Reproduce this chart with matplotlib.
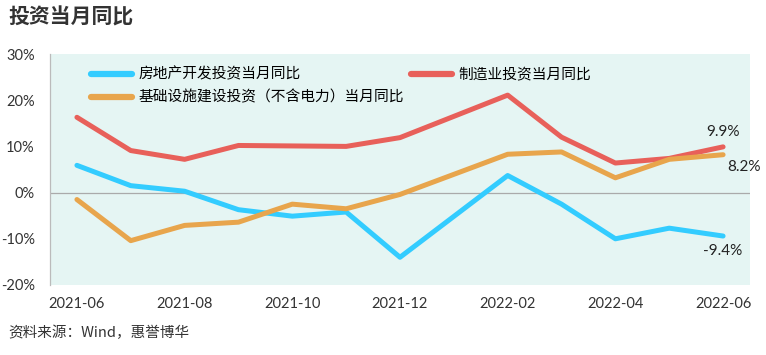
import matplotlib
matplotlib.use("Agg")
import matplotlib.pyplot as plt

plt.rcParams['font.family'] = ['Lato', 'Noto Sans CJK SC', 'DejaVu Sans']

months = ["2021-06", "2021-07", "2021-08", "2021-09", "2021-10", "2021-11", "2021-12",
          "2022-02", "2022-03", "2022-04", "2022-05", "2022-06"]
month_index = [0, 1, 2, 3, 4, 5, 6, 8, 9, 10, 11, 12]
tick_labels = ["2021-06", "2021-08", "2021-10", "2021-12", "2022-02", "2022-04", "2022-06"]
tick_pos = [0, 2, 4, 6, 8, 10, 12]

real_estate = [5.9, 1.5, 0.3, -3.7, -5.1, -4.2, -14.0, 3.7, -2.5, -10.0, -7.7, -9.4]
manufacturing = [16.3, 9.1, 7.2, 10.2, 10.1, 10.0, 11.9, 21.1, 12.0, 6.4, 7.4, 9.9]
infrastructure = [-1.5, -10.4, -7.1, -6.4, -2.5, -3.5, -0.4, 8.3, 8.8, 3.2, 7.2, 8.2]

names = ["房地产开发投资当月同比", "制造业投资当月同比", "基础设施建设投资（不含电力）当月同比"]
colors = ["#33CCFF", "#E8605A", "#E8A54C"]

fig = plt.figure(figsize=(7.66, 3.55), dpi=100)
ax = fig.add_axes([50/766, 1-285/355, 700/766, 231/355])
ax.set_facecolor("#E5F5F3")

lw = 3.6
l1, = ax.plot(month_index, real_estate, color=colors[0], lw=lw, solid_capstyle='round', label=names[0])
l2, = ax.plot(month_index, manufacturing, color=colors[1], lw=lw, solid_capstyle='round', label=names[1])
l3, = ax.plot(month_index, infrastructure, color=colors[2], lw=lw, solid_capstyle='round', label=names[2])

ax.axhline(0, color="#AAAAAA", lw=0.9, zorder=0.5)
ax.set_xlim(-0.5, 12.5)
ax.set_ylim(-20, 30)
ax.set_yticks([-20, -10, 0, 10, 20, 30])
ax.set_yticklabels([f"{v}%" for v in [-20, -10, 0, 10, 20, 30]])
ax.set_xticks(tick_pos)
ax.set_xticklabels(tick_labels)
ax.tick_params(axis='both', length=0, labelsize=10.5, colors="#333333")
ax.tick_params(axis='y', pad=11)
ax.tick_params(axis='x', pad=9)
for s in ["top", "right", "bottom"]:
    ax.spines[s].set_visible(False)
ax.spines["left"].set_color("#BBBBBB")
ax.spines["left"].set_linewidth(0.9)

leg = ax.legend(handles=[l1, l3, l2], ncol=2, loc="upper left", bbox_to_anchor=(0.04, 1.0),
                frameon=False, handlelength=2.8, handletextpad=0.4,
                columnspacing=0.5, labelspacing=0.6,
                prop={'family': ['Lato', 'Noto Sans CJK SC'], 'size': 10.6})
for h in leg.legend_handles:
    h.set_linewidth(4.5)

ax.annotate(f"{manufacturing[-1]}%", (month_index[-1], manufacturing[-1]), xytext=(0, 6),
            textcoords="offset points", ha="center", va="bottom", fontsize=11, color="#222222")
ax.annotate(f"{infrastructure[-1]}%", (month_index[-1], infrastructure[-1]), xytext=(3, -4),
            textcoords="offset points", ha="left", va="top", fontsize=11, color="#222222")
ax.annotate(f"{real_estate[-1]}%", (month_index[-1], real_estate[-1]), xytext=(0, -6),
            textcoords="offset points", ha="center", va="top", fontsize=11, color="#222222")

fig.text(8/766, 1-17/355, "投资当月同比", fontsize=15, fontweight="bold", color="#333333",
         va="center", ha="left", family=['Noto Sans CJK SC'])
fig.text(8/766, 1-333/355, "资料来源：Wind，惠誉博华", fontsize=10.5, color="#333333",
         va="center", ha="left", family=['Noto Sans CJK SC'])

fig.savefig("out.png", dpi=100)
